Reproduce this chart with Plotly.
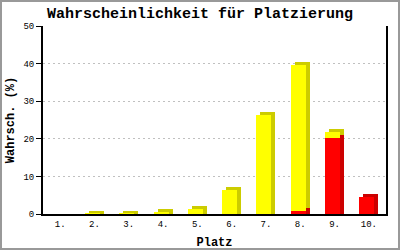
import numpy as np
import plotly.graph_objects as go

# ---- data ----
places = ["1.", "2.", "3.", "4.", "5.", "6.", "7.", "8.", "9.", "10."]
red_vals = [0, 0, 0, 0, 0, 0, 0, 0.8, 20.2, 4.6]
yellow_vals = [0, 0.1, 0.1, 0.5, 1.3, 6.4, 26.3, 38.8, 1.6, 0]
y_ticks = [0, 10, 20, 30, 40, 50]

# ---- layout constants ----
W, H = 400, 250
ML, MR, MT, MB = 43, 14, 26, 36
YMAX = 50
plot_w = W - ML - MR
plot_h = H - MT - MB
cat_px = plot_w / len(places)
unit_px = plot_h / YMAX

front_w = 15 / cat_px
dx = 4 / cat_px
dy = 3 / unit_px
front_off = -(front_w + dx) / 2
back_off = front_off + dx

x = np.arange(len(places))
red = np.array(red_vals, float)
yel = np.array(yellow_vals, float)
tot = red + yel
red_back_top = np.where(red > 0, red + dy, 0.0)
tot_back_top = np.where(tot > 0, tot + dy, 0.0)
yel_back_h = np.where(yel > 0, tot_back_top - red_back_top, 0.0)

YEL, DYEL = "#ffff00", "#cccc00"
RED, DRED = "#ff0000", "#cc0000"

fig = go.Figure()
common = dict(marker_line_width=0, hoverinfo="skip", showlegend=False)
fig.add_bar(x=x, y=red_back_top, base=0, width=front_w, offset=back_off,
            marker_color=DRED, **common)
fig.add_bar(x=x, y=yel_back_h, base=red_back_top, width=front_w, offset=back_off,
            marker_color=DYEL, **common)
fig.add_bar(x=x, y=red, base=0, width=front_w, offset=front_off,
            marker_color=RED, **common)
fig.add_bar(x=x, y=yel, base=red, width=front_w, offset=front_off,
            marker_color=YEL, **common)

mono = "Liberation Mono, DejaVu Sans Mono, monospace"
fig.update_layout(
    width=W, height=H,
    margin=dict(l=ML, r=MR, t=MT, b=MB, pad=0, autoexpand=False),
    paper_bgcolor="white", plot_bgcolor="white",
    barmode="overlay", bargap=0,
    title=dict(text="<b>Wahrscheinlichkeit für Platzierung</b>",
               x=0.5, xanchor="center", y=1 - 13 / H, yanchor="middle",
               font=dict(family=mono, size=15, color="black")),
    font=dict(family=mono, color="black"),
    shapes=[dict(type="rect", xref="paper", yref="paper",
                 x0=-ML / plot_w + 1 / plot_w, x1=1 + MR / plot_w - 1 / plot_w,
                 y0=-MB / plot_h + 1 / plot_h, y1=1 + MT / plot_h - 1 / plot_h,
                 line=dict(color="#999999", width=2), layer="below")],
)
fig.update_xaxes(
    range=[-0.5, len(places) - 0.5],
    tickvals=x, ticktext=places,
    tickfont=dict(family=mono, size=9, color="black"),
    showgrid=False, zeroline=False, automargin=False,
    showline=True, linecolor="black", linewidth=2, mirror=False,
    ticks="", ticklabelstandoff=0,
    title=dict(text="<b>Platz</b>", font=dict(family=mono, size=12, color="black"),
               standoff=10),
    fixedrange=True,
)
fig.update_yaxes(
    range=[0, YMAX],
    tickvals=y_ticks,
    tickfont=dict(family=mono, size=9, color="black"),
    showgrid=True, gridcolor="#c0c0c0", gridwidth=1, griddash="2px,3px",
    zeroline=False, automargin=False,
    showline=True, linecolor="black", linewidth=2, mirror=True,
    ticks="outside", ticklen=5, tickcolor="black", tickwidth=1,
    title=dict(text="<b>Wahrsch. (%)</b>", font=dict(family=mono, size=12, color="black"),
               standoff=6),
    fixedrange=True,
)

fig.write_html("out.html", config={"displayModeBar": False})
